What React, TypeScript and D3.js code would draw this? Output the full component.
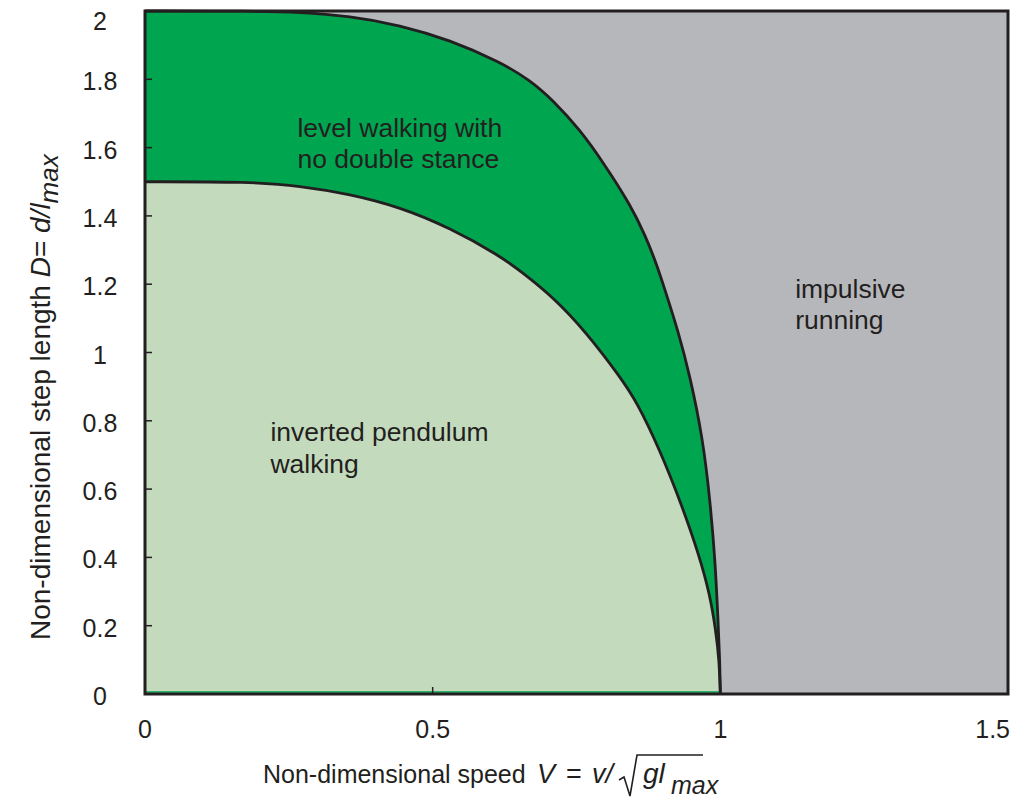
import React from "react";
import * as d3 from "d3";

// Outer boundary: limit of level walking (dark green below it, running beyond)
const outerV = [0, 0.183, 0.269, 0.356, 0.443, 0.53, 0.617, 0.669, 0.709, 0.756, 0.796, 0.845, 0.869, 0.888, 0.905, 0.926, 0.947, 0.97, 0.982, 0.991, 0.996, 0.999, 1.0];
const outerD = [2, 2, 1.997, 1.985, 1.959, 1.915, 1.851, 1.798, 1.739, 1.652, 1.558, 1.429, 1.344, 1.265, 1.177, 1.066, 0.934, 0.744, 0.568, 0.392, 0.217, 0.1, 0];

// Inner boundary: limit of inverted pendulum walking
const innerV = [0, 0.183, 0.269, 0.356, 0.443, 0.53, 0.617, 0.652, 0.709, 0.768, 0.826, 0.855, 0.895, 0.933, 0.963, 0.982, 0.992, 0.998, 1.0];
const innerD = [1.5, 1.5, 1.488, 1.464, 1.426, 1.365, 1.283, 1.239, 1.163, 1.057, 0.928, 0.855, 0.714, 0.553, 0.407, 0.29, 0.187, 0.1, 0];

const xTicks = [0, 0.5, 1, 1.5];
const xTickLabels = ["0", "0.5", "1", "1.5"];
const yTicks = [0, 0.2, 0.4, 0.6, 0.8, 1, 1.2, 1.4, 1.6, 1.8, 2];
const yTickLabels = ["0", "0.2", "0.4", "0.6", "0.8", "1", "1.2", "1.4", "1.6", "1.8", "2"];

const regionLabels = [
  { lines: ["level walking with", "no double stance"], v: 0.265, d: 1.632 },
  { lines: ["impulsive", "running"], v: 1.13, d: 1.16 },
  { lines: ["inverted pendulum", "walking"], v: 0.218, d: 0.74 },
];

const INK = "#231f20";
const DARK_GREEN = "#00a54f";
const LIGHT_GREEN = "#c4dabd";
const GREY = "#b6b7bb";
const FONT = "'Liberation Sans', Arial, Helvetica, sans-serif";

export default function App() {
  const W = 1013;
  const H = 799;
  const x = d3.scaleLinear().domain([0, 1.5]).range([145, 1008]);
  const y = d3.scaleLinear().domain([0, 2]).range([694, 11]);

  const outer = outerV.map((v, i) => [v, outerD[i]] as [number, number]);
  const inner = innerV.map((v, i) => [v, innerD[i]] as [number, number]);

  const curve = d3.curveBasis;
  const area = d3
    .area<[number, number]>()
    .x((p) => x(p[0]))
    .y0(y(0))
    .y1((p) => y(p[1]))
    .curve(curve);
  const line = d3
    .line<[number, number]>()
    .x((p) => x(p[0]))
    .y((p) => y(p[1]))
    .curve(curve);

  const [x0, x1] = x.range();
  const [yb, yt] = y.range();

  return (
    <svg width={W} height={H} style={{ display: "block", position: "absolute", left: 0, top: 0 }} fontFamily={FONT}>
      <rect x={x0} y={yt} width={x1 - x0} height={yb - yt} fill={GREY} />
      <path d={area(outer) || ""} fill={DARK_GREEN} />
      <path d={area(inner) || ""} fill={LIGHT_GREEN} />
      <line x1={x0} x2={x(1)} y1={yb - 2} y2={yb - 2} stroke={DARK_GREEN} strokeWidth={1.5} />
      <path d={line(outer) || ""} fill="none" stroke={INK} strokeWidth={2.8} />
      <path d={line(inner) || ""} fill="none" stroke={INK} strokeWidth={2.8} />

      {/* ticks */}
      {yTicks.map((t) => (
        <line key={"yt" + t} x1={x0} x2={x0 + 7} y1={y(t)} y2={y(t)} stroke={INK} strokeWidth={1.5} />
      ))}
      {xTicks.map((t) => (
        <line key={"xt" + t} x1={x(t)} x2={x(t)} y1={yb} y2={yb - 7} stroke={INK} strokeWidth={1.5} />
      ))}
      <rect x={x0} y={yt} width={x1 - x0} height={yb - yt} fill="none" stroke={INK} strokeWidth={3} />

      {/* tick labels */}
      {yTicks.map((t, i) => (
        <text key={"yl" + t} x={100} y={Math.max(y(t) + 2, 21) + 9} textAnchor="middle" fontSize={25} fill={INK}>
          {yTickLabels[i]}
        </text>
      ))}
      {xTicks.map((t, i) => (
        <text
          key={"xl" + t}
          x={i === xTicks.length - 1 ? x(t) + 2 : x(t)}
          y={738}
          textAnchor={i === xTicks.length - 1 ? "end" : "middle"}
          fontSize={25}
          fill={INK}
        >
          {xTickLabels[i]}
        </text>
      ))}

      {/* region labels */}
      {regionLabels.map((r) => (
        <text key={r.lines[0]} x={x(r.v)} y={y(r.d)} fontSize={26.5} fill={INK}>
          {r.lines.map((s, j) => (
            <tspan key={s} x={x(r.v)} dy={j === 0 ? 0 : 31.5}>
              {s}
            </tspan>
          ))}
        </text>
      ))}

      {/* x-axis title */}
      <g fill={INK} fontSize={25}>
        <text x={263} y={783}>Non-dimensional speed</text>
        <text x={537} y={783} fontStyle="italic" fontSize={27}>V</text>
        <text x={566} y={783} fontSize={27}>=</text>
        <text x={592} y={783} fontStyle="italic" fontSize={27}>v/</text>
        <path d="M619,780 L624,777 L630,796 L637,755 L703,755" fill="none" stroke={INK} strokeWidth={1.6} />
        <text x={643} y={783} fontStyle="italic" fontSize={28}>gl</text>
        <text x={671} y={794} fontStyle="italic" fontSize={25}>max</text>
      </g>

      {/* y-axis title */}
      <g transform="translate(50,640) rotate(-90)" fill={INK}>
        <text x={0} y={0} fontSize={28}>
          <tspan>Non-dimensional step length </tspan>
          <tspan fontStyle="italic">D</tspan>
          <tspan>= </tspan>
          <tspan fontStyle="italic">d/l</tspan>
          <tspan fontStyle="italic" fontSize={26} dy={8}>max</tspan>
        </text>
      </g>
    </svg>
  );
}
